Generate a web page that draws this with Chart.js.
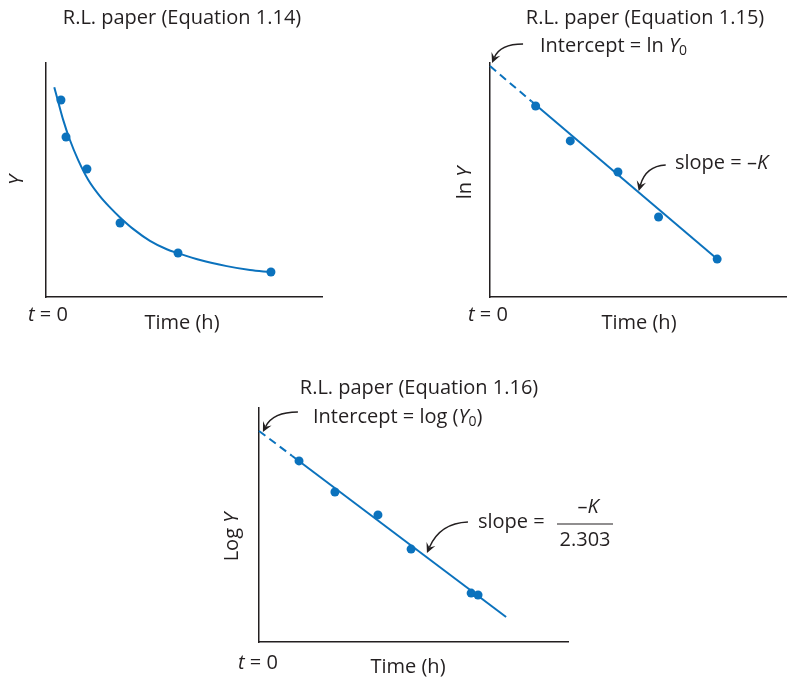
<!DOCTYPE html>
<html>
<head>
<meta charset="utf-8">
<script src="https://cdn.jsdelivr.net/npm/chart.js@4.4.0/dist/chart.umd.min.js"></script>
<style>
  html, body { margin: 0; padding: 0; background: #fff; }
  #wrap { position: relative; width: 791px; height: 682px; }
  canvas { position: absolute; left: 0; top: 0; }
</style>
</head>
<body>
<div id="wrap">
  <canvas id="graphRL" width="791" height="682"></canvas>
  <canvas id="graphLn" width="791" height="682"></canvas>
  <canvas id="graphLog" width="791" height="682"></canvas>
</div>
<script>
// Panel 1 - Y against time (curve)
const time1 = [0.65, 0.87, 1.78, 3.22, 5.74, 9.78];
const valueY = [8.42, 6.84, 5.47, 3.16, 1.88, 1.07];
const curveTime = [0.36, 0.51, 0.75, 1.04, 1.40, 1.84, 2.35, 2.78, 3.22, 3.80, 4.52, 5.25, 5.75, 6.70, 7.86, 8.87, 9.74];
const curveY = [8.96, 8.42, 7.56, 6.71, 5.85, 5.00, 4.30, 3.83, 3.40, 2.90, 2.40, 2.04, 1.87, 1.58, 1.32, 1.15, 1.06];

// Panel 2 - ln Y against time
const time2 = [2.00, 3.52, 5.61, 7.39, 9.96];
const lnY = [8.16, 6.67, 5.34, 3.42, 1.62];
const fitTime2 = [0, 1.83, 9.96];
const fitLnY = [9.87, 8.35, 1.62];

// Panel 3 - log Y against time
const time3 = [1.74, 3.30, 5.17, 6.61, 9.22, 9.52];
const logY = [7.74, 6.41, 5.43, 3.97, 2.09, 2.01];
const fitTime3 = [0, 1.43, 10.74];
const fitLogY = [9.02, 7.96, 1.07];

const BLUE = '#0b72bd';
const INK = '#231f20';
const FONT = '"Open Sans", Lato, sans-serif';
const SIZE = 20;
const SUB = 14;

function toXY(xs, ys) {
  return xs.map((x, i) => ({ x: x, y: ys[i] }));
}

function axis(max) {
  return {
    type: 'linear',
    min: 0,
    max: max,
    grid: { display: false, drawTicks: false },
    ticks: { display: false },
    border: { display: true, color: INK, width: 1.5 }
  };
}

function pointSet(xs, ys) {
  return {
    data: toXY(xs, ys),
    showLine: false,
    pointRadius: 4.5,
    pointBackgroundColor: BLUE,
    pointBorderWidth: 0,
    clip: false
  };
}

function lineSet(xs, ys, dashedStart, smooth) {
  return {
    data: toXY(xs, ys),
    borderColor: BLUE,
    borderWidth: 2,
    pointRadius: 0,
    cubicInterpolationMode: smooth ? 'monotone' : 'default',
    clip: false,
    segment: {
      borderDash: ctx => (dashedStart && ctx.p0DataIndex === 0 ? [8, 5] : undefined)
    }
  };
}

function setFont(ctx, italic, size) {
  ctx.font = (italic ? 'italic ' : '') + size + 'px ' + FONT;
}

// runs: [text, 'i' = italic, 's' = subscript]
function drawText(ctx, runs, x, y, align) {
  if (typeof runs === 'string') runs = [[runs]];
  ctx.save();
  ctx.fillStyle = INK;
  ctx.textBaseline = 'middle';
  ctx.textAlign = 'left';
  const widths = runs.map(r => {
    setFont(ctx, r[1] === 'i', r[1] === 's' ? SUB : SIZE);
    return ctx.measureText(r[0]).width;
  });
  const total = widths.reduce((a, b) => a + b, 0);
  let cx = align === 'center' ? x - total / 2 : x;
  runs.forEach((r, i) => {
    setFont(ctx, r[1] === 'i', r[1] === 's' ? SUB : SIZE);
    ctx.fillText(r[0], cx, r[1] === 's' ? y + 5 : y);
    cx += widths[i];
  });
  ctx.restore();
}

function drawRotated(ctx, runs, x, y) {
  ctx.save();
  ctx.translate(x, y);
  ctx.rotate(-Math.PI / 2);
  drawText(ctx, runs, 0, 0, 'center');
  ctx.restore();
}

// curved arrow, tip given in data units, tail and control as pixel offsets from the tip
function drawArrow(chart, tipX, tipY, tail, ctrl) {
  const ctx = chart.ctx;
  const x1 = chart.scales.x.getPixelForValue(tipX);
  const y1 = chart.scales.y.getPixelForValue(tipY);
  const x0 = x1 + tail[0], y0 = y1 + tail[1];
  const cx = x1 + ctrl[0], cy = y1 + ctrl[1];
  const ang = Math.atan2(y1 - cy, x1 - cx);
  const len = 11;
  ctx.save();
  ctx.strokeStyle = INK;
  ctx.fillStyle = INK;
  ctx.lineWidth = 1.5;
  ctx.beginPath();
  ctx.moveTo(x0, y0);
  ctx.quadraticCurveTo(cx, cy, x1 - Math.cos(ang) * 6, y1 - Math.sin(ang) * 6);
  ctx.stroke();
  ctx.beginPath();
  ctx.moveTo(x1, y1);
  ctx.lineTo(x1 - len * Math.cos(ang - 0.45), y1 - len * Math.sin(ang - 0.45));
  ctx.lineTo(x1 - len * 0.55 * Math.cos(ang), y1 - len * 0.55 * Math.sin(ang));
  ctx.lineTo(x1 - len * Math.cos(ang + 0.45), y1 - len * Math.sin(ang + 0.45));
  ctx.closePath();
  ctx.fill();
  ctx.restore();
}

function buildChart(id, padding, xMax, yMax, datasets, drawNotes) {
  return new Chart(document.getElementById(id), {
    type: 'line',
    data: { datasets: datasets },
    options: {
      responsive: false,
      animation: false,
      events: [],
      layout: { padding: padding },
      plugins: { legend: { display: false }, tooltip: { enabled: false } },
      scales: { x: axis(xMax), y: axis(yMax) }
    },
    plugins: [{ id: 'notes', afterDraw: chart => drawNotes(chart, chart.ctx) }]
  });
}

// Panel 1
buildChart('graphRL', { left: 46, top: 63, right: 469, bottom: 385 }, 12, 10,
  [lineSet(curveTime, curveY, false, true), pointSet(time1, valueY)],
  (chart, ctx) => {
    drawText(ctx, 'R.L. paper (Equation 1.14)', 182, 18, 'center');
    drawRotated(ctx, [['Y', 'i']], 17, 180);
    drawText(ctx, [['t', 'i'], [' = 0']], 28, 315, 'left');
    drawText(ctx, 'Time (h)', 182, 323, 'center');
  });

// Panel 2
buildChart('graphLn', { left: 490, top: 63, right: 1, bottom: 385 }, 13, 10,
  [lineSet(fitTime2, fitLnY, true, false), pointSet(time2, lnY)],
  (chart, ctx) => {
    drawText(ctx, 'R.L. paper (Equation 1.15)', 645, 18, 'center');
    drawText(ctx, [['Intercept = ln '], ['Y', 'i'], ['0', 's']], 540, 46, 'left');
    drawRotated(ctx, [['ln '], ['Y', 'i']], 465, 183);
    drawText(ctx, [['t', 'i'], [' = 0']], 468, 315, 'left');
    drawText(ctx, 'Time (h)', 639, 323, 'center');
    drawText(ctx, [['slope = \u2013'], ['K', 'i']], 675, 163, 'left');
    drawArrow(chart, 0.09, 10.0, [31, -19], [8, -19]);
    drawArrow(chart, 6.52, 4.53, [27, -26], [7, -25]);
  });

// Panel 3
buildChart('graphLog', { left: 259, top: 408, right: 223, bottom: 40 }, 13.43, 10,
  [lineSet(fitTime3, fitLogY, true, false), pointSet(time3, logY)],
  (chart, ctx) => {
    drawText(ctx, 'R.L. paper (Equation 1.16)', 419, 388, 'center');
    drawText(ctx, [['Intercept = log ('], ['Y', 'i'], ['0', 's'], [')']], 313, 417, 'left');
    drawRotated(ctx, [['Log '], ['Y', 'i']], 232, 537);
    drawText(ctx, [['t', 'i'], [' = 0']], 238, 663, 'left');
    drawText(ctx, 'Time (h)', 408, 667, 'center');
    drawText(ctx, 'slope =', 478, 522, 'left');
    drawText(ctx, [['\u2013'], ['K', 'i']], 588, 507, 'center');
    ctx.save();
    ctx.strokeStyle = INK;
    ctx.lineWidth = 1.2;
    ctx.beginPath();
    ctx.moveTo(557, 524);
    ctx.lineTo(613, 524);
    ctx.stroke();
    ctx.restore();
    drawText(ctx, '2.303', 585, 540, 'center');
    drawArrow(chart, 0.17, 8.97, [35, -20], [10, -20]);
    drawArrow(chart, 7.30, 3.80, [41, -31], [13, -30]);
  });
</script>
</body>
</html>
